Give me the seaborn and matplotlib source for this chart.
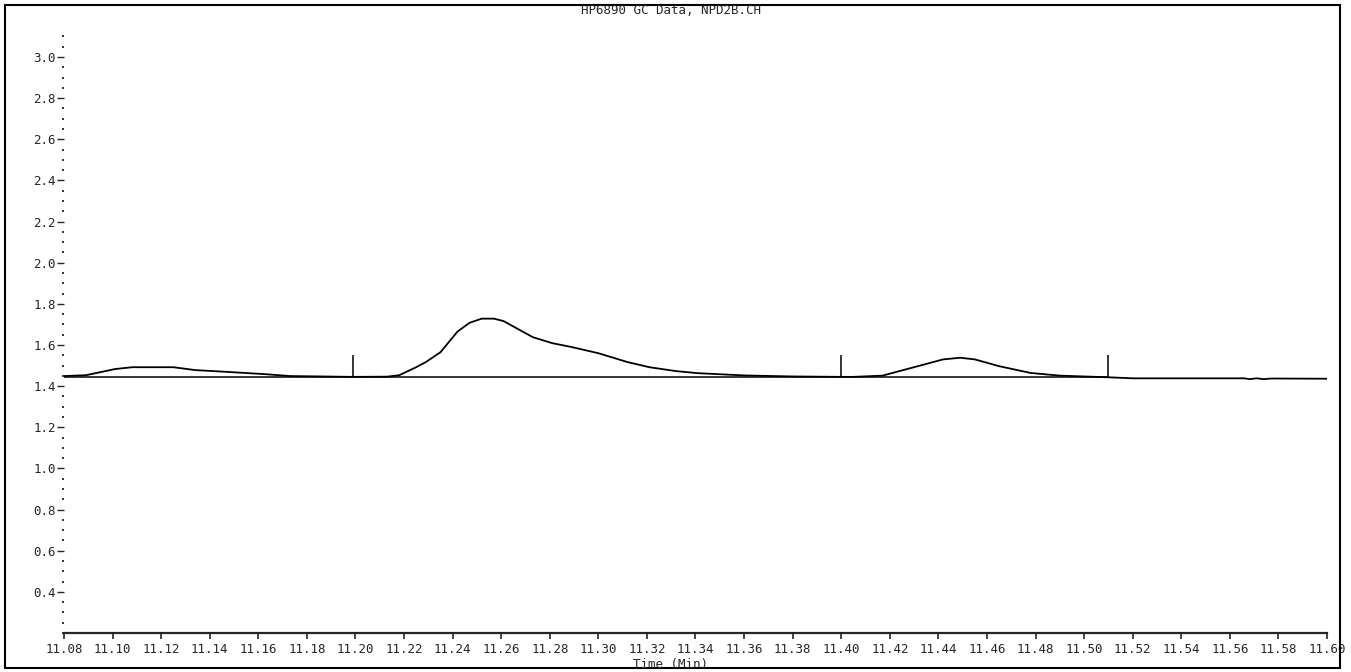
# -*- coding: utf-8 -*-
# GC chromatogram trace (HP6890, NPD2B.CH) redrawn with seaborn

import numpy as np
import pandas as pd
import matplotlib
matplotlib.use('Agg')
import matplotlib.pyplot as plt
import seaborn as sns
from matplotlib.patches import Rectangle
from matplotlib.ticker import MultipleLocator, FormatStrFormatter

# %% data

# detector signal (time in min, response)
time = [11.080, 11.089, 11.101, 11.108, 11.125, 11.134, 11.149, 11.163, 11.173, 11.199,
        11.213, 11.218, 11.225, 11.229, 11.235, 11.242, 11.247, 11.252, 11.257, 11.261,
        11.265, 11.273, 11.281, 11.289, 11.300, 11.312, 11.321, 11.332, 11.341, 11.360,
        11.380, 11.400, 11.405, 11.417, 11.429, 11.442, 11.449, 11.455, 11.465, 11.478,
        11.490, 11.500, 11.510, 11.520, 11.566, 11.568, 11.571, 11.574, 11.577, 11.600]
signal = [1.449, 1.453, 1.483, 1.492, 1.492, 1.478, 1.468, 1.458, 1.449, 1.445,
          1.446, 1.453, 1.492, 1.517, 1.565, 1.665, 1.708, 1.728, 1.728, 1.716,
          1.690, 1.638, 1.609, 1.590, 1.560, 1.517, 1.492, 1.473, 1.463, 1.452,
          1.447, 1.445, 1.445, 1.451, 1.489, 1.530, 1.538, 1.530, 1.497, 1.464,
          1.451, 1.447, 1.443, 1.438, 1.438, 1.434, 1.438, 1.434, 1.437, 1.436]

# integration baseline
base_time = [11.080, 11.510]
base_level = [1.443, 1.443]

# peak start / end markers
marker_times = [11.199, 11.400, 11.510]
marker_low = 1.445
marker_high = 1.552

title = 'HP6890 GC Data, NPD2B.CH'
xlabel = 'Time (Min)'

# %% plot

sns.set_style('white')
plt.rcParams['font.family'] = ['DejaVu Sans Mono', 'DejaVu Sans']

fig = plt.figure(figsize=(13.51, 6.72), dpi=100)
ax = fig.add_axes([0.0474, 0.058, 0.9348, 0.894])

df = pd.DataFrame({'Time': time, 'Signal': signal})
sns.lineplot(data=df, x='Time', y='Signal', ax=ax, color='black',
             linewidth=1.3, sort=False, estimator=None)

dfBase = pd.DataFrame({'Time': base_time, 'Signal': base_level})
sns.lineplot(data=dfBase, x='Time', y='Signal', ax=ax, color='black',
             linewidth=1.1, sort=False, estimator=None)

ax.vlines(marker_times, marker_low, marker_high, color='black', linewidth=1.1)

ax.set_xlim(11.08, 11.60)
ax.set_ylim(0.2, 3.12)

# axes look of the old printout
ax.spines['top'].set_visible(False)
ax.spines['right'].set_visible(False)
ax.spines['left'].set_visible(False)
ax.spines['bottom'].set_linewidth(1.6)

ax.xaxis.set_major_locator(MultipleLocator(0.02))
ax.xaxis.set_major_formatter(FormatStrFormatter('%.2f'))
ax.yaxis.set_minor_locator(MultipleLocator(0.05))
ax.yaxis.set_major_formatter(FormatStrFormatter('%.1f'))
ax.set_yticks([v for v in np.arange(0.4, 3.01, 0.2)])

ax.tick_params(axis='x', which='major', direction='out', length=4, width=1.2,
               labelsize=9, pad=3, bottom=True)
ax.tick_params(axis='y', which='major', direction='out', length=5, width=1.0,
               labelsize=9, pad=1, left=True)
ax.tick_params(axis='y', which='minor', direction='out', length=1.3, width=1.3,
               left=True)

ax.set_xlabel('')
ax.set_ylabel('')

fig.text(0.497, 0.984, title, ha='center', va='center', fontsize=9)
fig.text(0.496, 0.0105, xlabel, ha='center', va='center', fontsize=9)

# frame round the whole page
fig.patches.append(Rectangle((0.0037, 0.006), 0.9882, 0.9866, transform=fig.transFigure,
                             fill=False, edgecolor='black', linewidth=1.5))

plt.savefig('out.png', dpi=100)
